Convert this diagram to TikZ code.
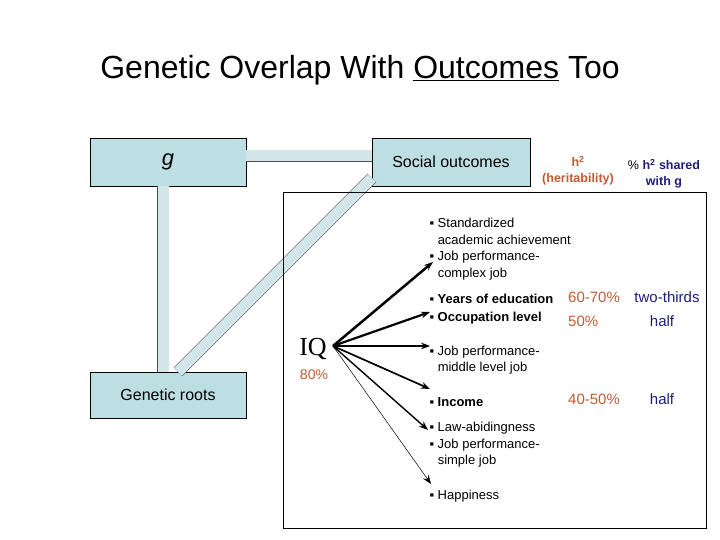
\documentclass[tikz,border=0pt]{standalone}
\usepackage{fontspec}
\setmainfont{Liberation Sans}
\usetikzlibrary{arrows.meta}
\definecolor{boxfill}{RGB}{189,222,226}
\definecolor{bandfill}{RGB}{210,230,234}
\definecolor{hcol}{RGB}{196,90,50}
\definecolor{ncol}{RGB}{30,30,120}
\begin{document}
\begin{tikzpicture}[x=1pt,y=-1pt,
  box/.style={draw=black,fill=boxfill,minimum width=156pt,minimum height=48pt,inner sep=0pt,font=\fontsize{16}{18}\selectfont},
  band/.style={draw=gray!60!black,double=bandfill,double distance=11pt,line width=0.5pt},
  item/.style={anchor=west,align=left,font=\fontsize{13}{16.5}\selectfont},
  bitem/.style={item,font=\bfseries\fontsize{13}{17.5}\selectfont},
  arr/.style={-{Stealth[length=9pt]}}]
\useasboundingbox (0,0) rectangle (720,540);
\node (title) at (360,70) {\fontsize{32}{36}\selectfont Genetic Overlap With \underline{Outcomes} Too};
\node[box] (g) at (168,162) {\fontsize{22}{24}\selectfont\itshape g};
\node[box,minimum width=158pt] (soc) at (451,162) {Social outcomes};
\node[box,minimum height=46pt] (gen) at (168,395) {Genetic roots};
\draw[band] (g.east |- 0,156) -- (soc.west |- 0,156);
\draw[band] (g.south -| 163,0) -- (gen.north -| 163,0);
\draw[band] (gen.north -| 178,0) -- (soc.west |- 0,178);
\node[draw=black,minimum width=423pt,minimum height=336pt,inner sep=0pt] (frame) at (494.5,360) {};
\node[font=\bfseries\fontsize{12.5}{16}\selectfont,text=hcol,align=center] (h2) at (578,171) {h\textsuperscript{2}\\(heritability)};
\node[font=\bfseries\fontsize{12.5}{16}\selectfont,text=ncol,align=center] (sh) at (664,174) {\textcolor{black}{\mdseries\%} h\textsuperscript{2} shared\\with g};
\node[font=\fontsize{26}{28}\selectfont,inner sep=1pt] (iq) at (313,349) {\fontspec{Liberation Serif}IQ};
\node[text=hcol,font=\fontsize{14}{16}\selectfont] (iqp) at (314,375) {80\%};
\node[item] (t1) at (426,249) {▪ Standardized\\\phantom{▪ }academic achievement\\▪ Job performance-\\\phantom{▪ }complex job};
\node[bitem] (t2) at (426,309) {▪ Years of education\\▪ Occupation level};
\node[item] (t3) at (426,360) {▪ Job performance-\\\phantom{▪ }middle level job};
\node[bitem] (t4) at (426,402) {▪ Income};
\node[item] (t5) at (426,445) {▪ Law-abidingness\\▪ Job performance-\\\phantom{▪ }simple job};
\node[item] (t6) at (426,496) {▪ Happiness};
\node[text=hcol,font=\fontsize{15}{17}\selectfont,anchor=west,inner sep=0pt] (p1) at (568,297) {60-70\%};
\node[text=hcol,font=\fontsize{15}{17}\selectfont,anchor=west,inner sep=0pt] (p2) at (568,321) {50\%};
\node[text=hcol,font=\fontsize{15}{17}\selectfont,anchor=west,inner sep=0pt] (p3) at (568,399) {40-50\%};
\node[text=ncol,font=\fontsize{15}{17}\selectfont] (q1) at (667,297) {two-thirds};
\node[text=ncol,font=\fontsize{15}{17}\selectfont] (q2) at (662,321) {half};
\node[text=ncol,font=\fontsize{15}{17}\selectfont] (q3) at (662,399) {half};
\coordinate (a1) at (433,262);
\coordinate (a2) at (430,312);
\coordinate (a3) at (430,346);
\coordinate (a4) at (430,389);
\coordinate (a5) at (428,430);
\coordinate (a6) at (431,484);
\coordinate (o) at (333,346);
\draw[arr,line width=2.5pt] (o) -- (a1);
\draw[arr,line width=2.2pt] (o) -- (a2);
\draw[arr,line width=1.3pt] (o) -- (a3);
\draw[arr,line width=1.7pt] (o) -- (a4);
\draw[arr,line width=1.4pt] (o) -- (a5);
\draw[arr,line width=0.5pt] (o) -- (a6);
\end{tikzpicture}
\end{document}
